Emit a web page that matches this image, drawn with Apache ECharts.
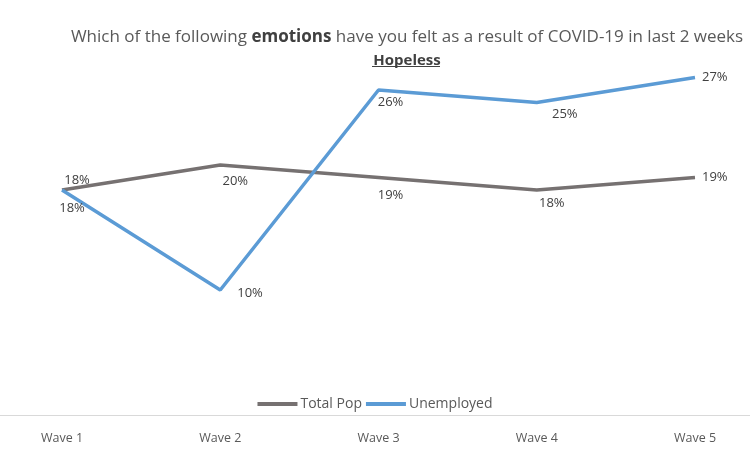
<!DOCTYPE html>
<html><head><meta charset="utf-8">
<script src="https://cdn.jsdelivr.net/npm/echarts@6/dist/echarts.min.js"></script>
<style>html,body{margin:0;padding:0;background:#fff}#c{width:750px;height:450px}</style>
</head><body><div id="c"></div>
<script>
var categories = ['Wave 1','Wave 2','Wave 3','Wave 4','Wave 5'];
var totalPop = [18, 20, 19, 18, 19];
var unemployed = [18, 10, 26, 25, 27];
var totalPos = [['top',[15,2]],['bottom',[15,5]],['bottom',[12,6]],['bottom',[15,2]],['right',[2,0]]];
var unempPos = [['bottom',[10,7]],['right',[12,3]],['bottom',[12,1]],['bottom',[28,0]],['right',[2,0]]];

function mk(vals, pos){
  return vals.map(function(v,i){
    return {value:v, label:{position:pos[i][0], offset:pos[i][1]}};
  });
}
var chart = echarts.init(document.getElementById('c'));
var font = 'Open Sans';
chart.setOption({
  animation:false,
  textStyle:{fontFamily:font},
  title:{
    text:'{n|Which of the following }{b|emotions}{n| have you felt as a result of COVID-19 in last 2 weeks}\n{h|Hopeless}',
    left:402, top:20, textAlign:'center',
    textStyle:{fontWeight:'normal', rich:{
      n:{fontSize:17, color:'#595959', fontFamily:font, fontWeight:'normal', lineHeight:24},
      b:{fontSize:17, color:'#404040', fontWeight:'bold', fontFamily:font, lineHeight:24},
      h:{fontSize:15, color:'#404040', fontWeight:'bold', fontFamily:font, lineHeight:24}
    }}
  },
  graphic:[
    {type:'line', shape:{x1:372,y1:66.5,x2:440,y2:66.5}, style:{stroke:'#404040', lineWidth:1}},
    {type:'line', shape:{x1:0,y1:415.5,x2:750,y2:415.5}, style:{stroke:'#d9d9d9', lineWidth:1}}
  ],
  legend:{
    top:392, left:'center', itemWidth:40, itemHeight:4, itemGap:4,
    icon:'rect',
    textStyle:{fontSize:14, color:'#595959', fontFamily:font, padding:[0,0,0,-2]},
    data:['Total Pop','Unemployed']
  },
  grid:{left:62, right:55, top:40, bottom:35},
  xAxis:{
    type:'category', data:categories, boundaryGap:false,
    axisLine:{show:false},
    axisTick:{show:false},
    axisLabel:{color:'#595959', fontSize:12.5, margin:17, fontFamily:font}
  },
  yAxis:{type:'value', min:0, max:30, show:false, splitLine:{show:false}},
  series:[
    {name:'Total Pop', type:'line', data:mk(totalPop,totalPos), symbol:'circle', symbolSize:0, showSymbol:true,
     lineStyle:{color:'#767171', width:3.5}, itemStyle:{color:'#767171'},
     label:{show:true, formatter:'{c}%', color:'#404040', fontSize:13, fontFamily:font}},
    {name:'Unemployed', type:'line', data:mk(unemployed,unempPos), symbol:'circle', symbolSize:0, showSymbol:true,
     lineStyle:{color:'#5b9bd5', width:3.5}, itemStyle:{color:'#5b9bd5'},
     label:{show:true, formatter:'{c}%', color:'#404040', fontSize:13, fontFamily:font}}
  ]
});
</script></body></html>
